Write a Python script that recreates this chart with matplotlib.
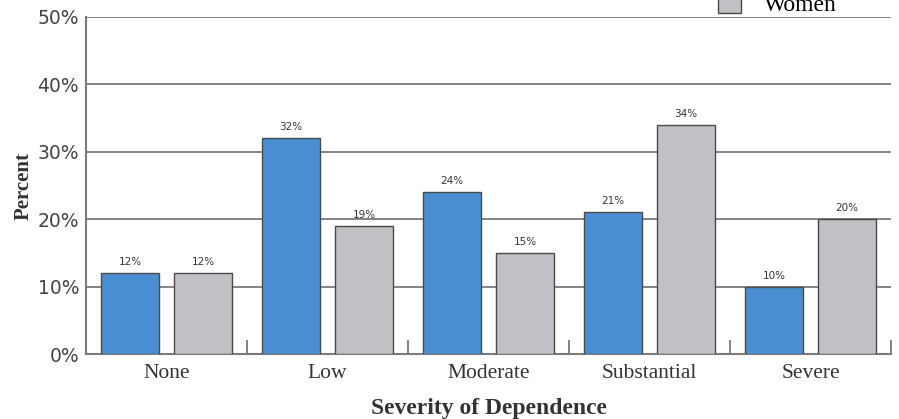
import matplotlib.pyplot as plt
import numpy as np
from matplotlib.patches import Patch

categories = ["None", "Low", "Moderate", "Substantial", "Severe"]
men = [12, 32, 24, 21, 10]
women = [12, 19, 15, 34, 20]
yticks = [0, 10, 20, 30, 40, 50]

blue = "#4a8fd1"
gray = "#c1c0c5"
edge = "#4a4a4a"
line = "#7a7a7a"

fig = plt.figure(figsize=(8.99, 4.19), dpi=100)
ax = fig.add_axes([86 / 899, 65 / 419, 805 / 899, 337 / 419])

x = np.arange(len(categories))
w = 0.36
off = 0.227
b1 = ax.bar(x - off, men, w, color=blue, edgecolor=edge, linewidth=1.0, zorder=3, label="Men")
b2 = ax.bar(x + off, women, w, color=gray, edgecolor=edge, linewidth=1.0, zorder=3, label="Women")

for bars, vals in ((b1, men), (b2, women)):
    for r, v in zip(bars, vals):
        ax.text(r.get_x() + r.get_width() / 2, v + 0.9, f"{v}%", ha="center", va="bottom",
                fontsize=7.5, family="DejaVu Sans", color="#333333", zorder=4)

ax.set_xlim(-0.5, len(categories) - 0.5)
ax.set_ylim(0, 50)
ax.set_yticks(yticks)
ax.set_yticklabels([f"{t}%" for t in yticks], family="DejaVu Sans", fontsize=13.5, color="#444444")
ax.yaxis.grid(True, color=line, linewidth=1.3, zorder=0)
ax.set_axisbelow(True)

ax.set_xticks(x)
ax.set_xticklabels(categories, family="Liberation Serif", fontsize=15.5, color="#333333")
ax.tick_params(axis="x", length=0, pad=7)
ax.tick_params(axis="y", length=0, pad=5)

# boundary ticks between categories
ax.set_xticks(np.arange(len(categories)) + 0.5, minor=True)
ax.tick_params(axis="x", which="minor", direction="in", length=10, color=line, width=1.3)

for s in ("top", "right"):
    ax.spines[s].set_visible(False)
for s in ("left", "bottom"):
    ax.spines[s].set_color(line)
    ax.spines[s].set_linewidth(1.5)

ax.set_ylabel("Percent", family="Liberation Serif", fontweight="bold", fontsize=15, color="#333333", labelpad=3)
ax.set_xlabel("Severity of Dependence", family="Liberation Serif", fontweight="bold", fontsize=17,
              color="#333333", labelpad=11)

handles = [Patch(facecolor=blue, edgecolor=edge, label="Men"),
           Patch(facecolor=gray, edgecolor=edge, label="Women")]
fig.legend(handles=handles, loc="lower left", bbox_to_anchor=(697 / 899, (419 - 37) / 419),
           frameon=False, prop={"family": "Liberation Serif", "size": 17},
           handlelength=0.95, handleheight=1.0, handletextpad=1.0, labelspacing=0.5)

fig.savefig("out.png", dpi=100)
